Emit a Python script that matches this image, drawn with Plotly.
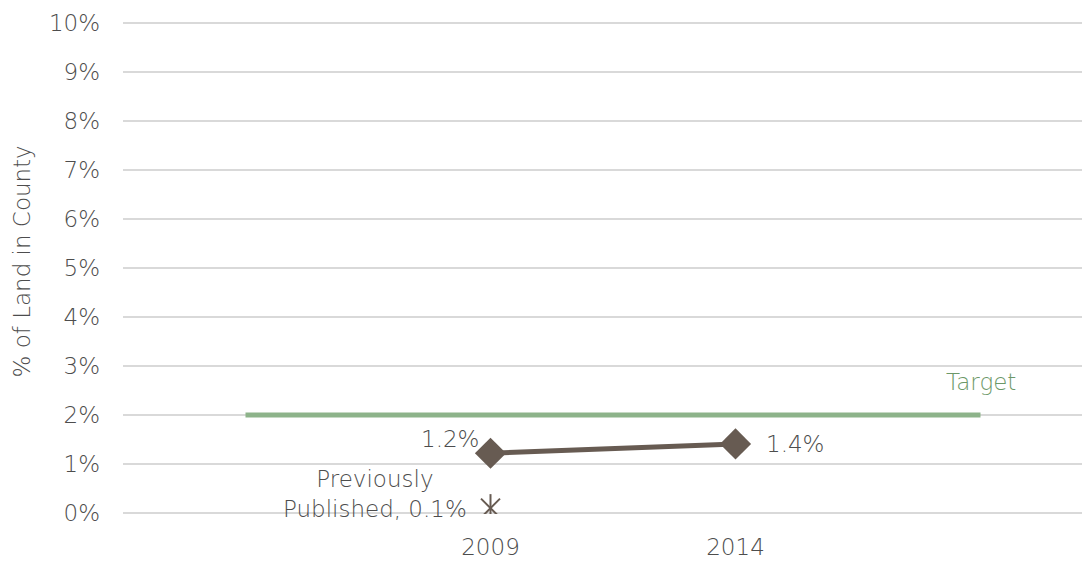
import plotly.graph_objects as go

# Category slots on the x axis (outer slots are blank padding, used by the target line)
slots = ["", "2009", "2014", ""]
years = ["2009", "2014"]
land_pct = [1.22, 1.41]
land_labels = ["1.2%", "1.4%"]
prev_year = "2009"
prev_pct = [0.1]
prev_label = "Previously<br>Published, 0.1%"
target_pct = 2.0
target_label = "Target"
y_ticks = [0, 1, 2, 3, 4, 5, 6, 7, 8, 9, 10]
y_ticktext = [f"{v}%" for v in y_ticks]
y_title = "% of Land in County"

pos = {y: slots.index(y) for y in years}
xs = [pos[y] for y in years]

FONT = "DejaVu Sans ExtraLight, DejaVu Sans Light, DejaVu Sans"
TXT = "#4d4d4d"
LINE = "#675b52"
GREEN = "#8db38a"

# page body has an 8px default margin; figure is sized/offset to compensate
W, H = 1082, 553
L, T, B = 115, 10, 47
plot_w = W - L

fig = go.Figure()

fig.add_trace(go.Scatter(
    x=[0, len(slots) - 1], y=[target_pct, target_pct], mode="lines",
    line=dict(color=GREEN, width=5), hoverinfo="skip", showlegend=False))

fig.add_trace(go.Scatter(
    x=xs, y=land_pct, mode="lines+markers",
    line=dict(color=LINE, width=5),
    marker=dict(symbol="diamond", size=24, color=LINE),
    showlegend=False))

# six-armed star: X plus vertical stroke
fig.add_trace(go.Scatter(
    x=[pos[prev_year]], y=prev_pct, mode="markers",
    marker=dict(symbol="x-thin-open", size=19, color=LINE, line=dict(color=LINE, width=2)),
    showlegend=False))
fig.add_trace(go.Scatter(
    x=[pos[prev_year]], y=prev_pct, mode="markers",
    marker=dict(symbol="line-ns-open", size=20, color=LINE, line=dict(color=LINE, width=2)),
    showlegend=False))

lab_font = dict(family=FONT, size=23, color=TXT)
fig.add_annotation(x=xs[0], y=land_pct[0], text=land_labels[0], showarrow=False,
                   xanchor="right", yanchor="middle", xshift=-10, yshift=14, font=lab_font)
fig.add_annotation(x=xs[1], y=land_pct[1], text=land_labels[1], showarrow=False,
                   xanchor="left", yanchor="middle", xshift=28, yshift=0, font=lab_font)
fig.add_annotation(x=pos[prev_year], y=prev_pct[0], text=prev_label, showarrow=False,
                   xanchor="right", yanchor="middle", align="center", xshift=-22, yshift=14,
                   font=lab_font)
fig.add_annotation(x=len(slots) - 1, y=target_pct, text=target_label, showarrow=False,
                   xanchor="center", yanchor="bottom", yshift=18,
                   font=dict(family=FONT, size=23, color="#6c9868"))

fig.add_annotation(xref="paper", yref="paper", x=(13 - L) / plot_w, y=0.5 + 4.5 / (H - T - B), text=y_title,
                   textangle=-90, showarrow=False, xanchor="center", yanchor="middle",
                   font=lab_font)

span = plot_w / 245
fig.update_layout(
    width=W, height=H,
    margin=dict(l=L, r=0, t=T, b=B, autoexpand=False),
    paper_bgcolor="white", plot_bgcolor="white",
    xaxis=dict(range=[-0.5, -0.5 + span], tickvals=xs, ticktext=years,
               showgrid=False, zeroline=False, showline=False, ticks="",
               tickfont=lab_font, ticklabelstandoff=17, automargin=False),
    yaxis=dict(range=[-0.02, 10.1], tickvals=y_ticks, ticktext=y_ticktext,
               showgrid=True, gridcolor="#d9d9d9", gridwidth=2,
               zeroline=True, zerolinecolor="#d9d9d9", zerolinewidth=2,
               ticks="", tickfont=lab_font, ticklabelstandoff=22, automargin=False),
)

fig.write_html("out.html")
